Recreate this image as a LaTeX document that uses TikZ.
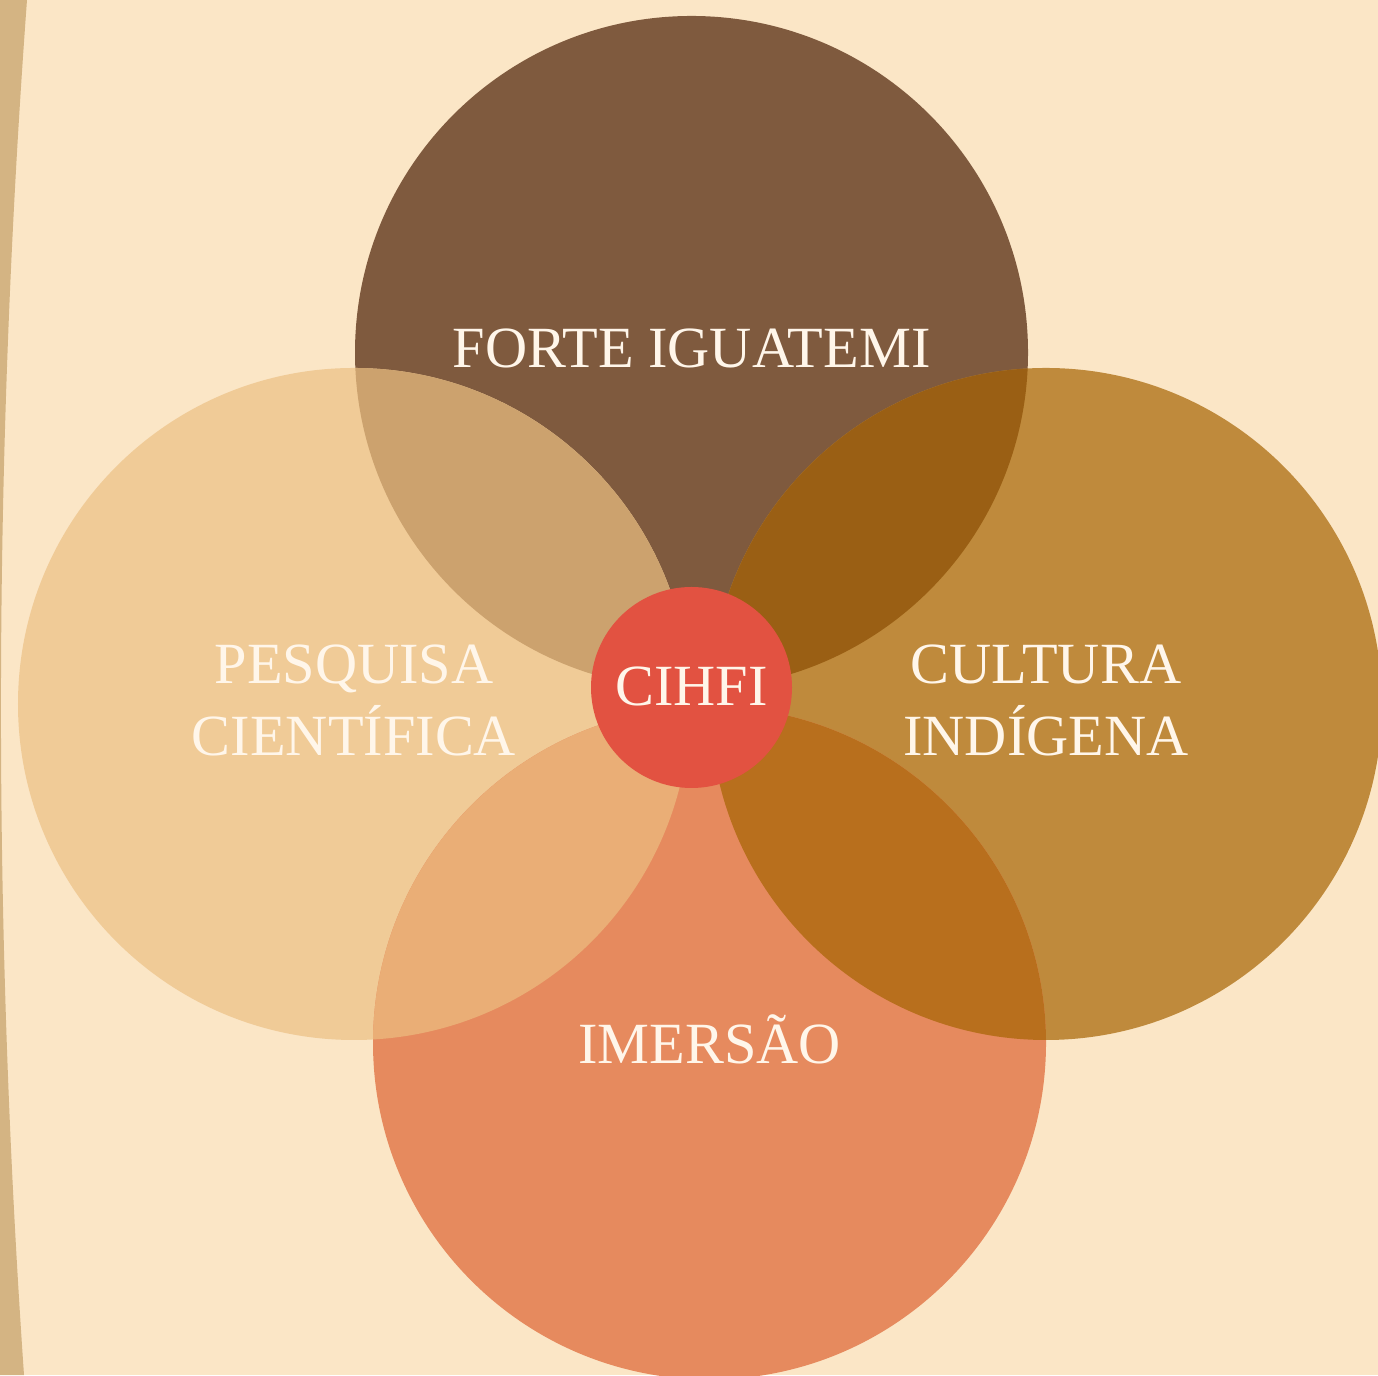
\documentclass[tikz,border=0pt]{standalone}
\usepackage{fontspec}
\setmainfont{Liberation Serif}
\usetikzlibrary{positioning}

\definecolor{bgc}{HTML}{FBE6C6}
\definecolor{stripec}{HTML}{D4B483}
\definecolor{fortec}{HTML}{7F5A3E}
\definecolor{pesqc}{HTML}{F0CB97}
\definecolor{cultc}{HTML}{BF8A3C}
\definecolor{imerc}{HTML}{E68A5E}
\definecolor{hubc}{HTML}{E25241}
\definecolor{fpc}{HTML}{CCA26E}
\definecolor{fcc}{HTML}{9A5F14}
\definecolor{ipc}{HTML}{EAAE76}
\definecolor{icc}{HTML}{B86F1D}
\definecolor{txtc}{HTML}{FFF6EA}

\begin{document}
\begin{tikzpicture}[
  font=\fontsize{16.6}{20.5}\selectfont,
  petal/.style={circle, minimum size=6.72cm, inner sep=0pt, align=center, text=txtc, text depth=0.08cm},
  hub/.style={circle, minimum size=2.01cm, inner sep=0pt, fill=hubc, text=txtc, text depth=0.02cm}
]
\clip (0,0) rectangle (13.78,13.75);
\fill[bgc] (0,0) rectangle (13.78,13.75);
% faixa lateral
\fill[stripec] (0.27,13.75) .. controls (-0.067,9.17) and (-0.077,4.59) .. (0.24,0) -- (0,0) -- (0,13.75) -- cycle;

\node[petal, fill=fortec, minimum size=6.73cm] (forte) at (6.915,10.225) {FORTE IGUATEMI};
\node[petal, fill=pesqc] (pesq) at (3.54,6.71) {PESQUISA\\CIENTÍFICA};
\node[petal, fill=cultc] (cult) at (10.46,6.71) {CULTURA\\INDÍGENA};
\node[petal, fill=imerc, minimum size=6.73cm] (imer) at (7.095,3.32) {IMERSÃO};

% intersecoes
\begin{scope}
  \clip (forte.center) circle (3.365);
  \fill[fpc] (pesq.center) circle (3.36);
  \fill[fcc] (cult.center) circle (3.36);
\end{scope}
\begin{scope}
  \clip (imer.center) circle (3.365);
  \fill[ipc] (pesq.center) circle (3.36);
  \fill[icc] (cult.center) circle (3.36);
\end{scope}

\node[hub] (hub) at (6.915,6.875) {CIHFI};
\end{tikzpicture}
\end{document}
